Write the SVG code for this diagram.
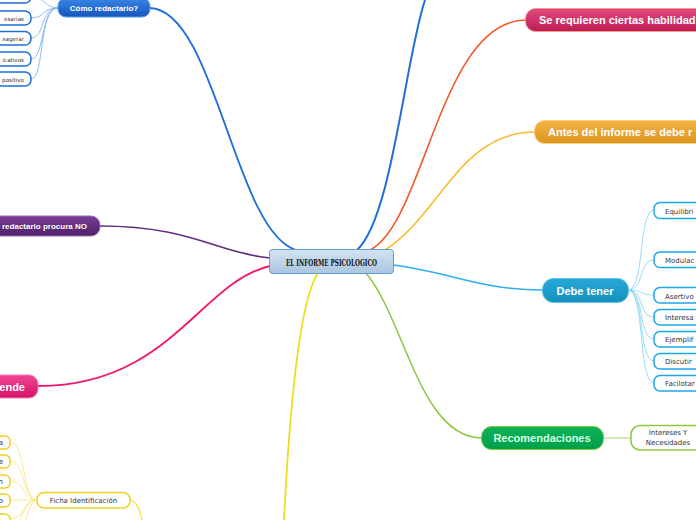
<svg xmlns="http://www.w3.org/2000/svg" width="696" height="520" viewBox="0 0 696 520">
<defs>
<linearGradient id="gCenter" x1="0" y1="0" x2="0" y2="1"><stop offset="0" stop-color="#d3e3f1"/><stop offset="1" stop-color="#aac6e0"/></linearGradient>
<linearGradient id="gBlue" x1="0" y1="0" x2="0" y2="1"><stop offset="0" stop-color="#3a86e6"/><stop offset="1" stop-color="#1556bd"/></linearGradient>
<linearGradient id="gRed" x1="0" y1="0" x2="0" y2="1"><stop offset="0" stop-color="#e24a7c"/><stop offset="1" stop-color="#bd1c55"/></linearGradient>
<linearGradient id="gOrange" x1="0" y1="0" x2="0" y2="1"><stop offset="0" stop-color="#f2b445"/><stop offset="1" stop-color="#dc9420"/></linearGradient>
<linearGradient id="gPurple" x1="0" y1="0" x2="0" y2="1"><stop offset="0" stop-color="#7a3f96"/><stop offset="1" stop-color="#4f1e68"/></linearGradient>
<linearGradient id="gPink" x1="0" y1="0" x2="0" y2="1"><stop offset="0" stop-color="#f04690"/><stop offset="1" stop-color="#d4126a"/></linearGradient>
<linearGradient id="gTeal" x1="0" y1="0" x2="0" y2="1"><stop offset="0" stop-color="#25a8d6"/><stop offset="1" stop-color="#1790bd"/></linearGradient>
<linearGradient id="gGreen" x1="0" y1="0" x2="0" y2="1"><stop offset="0" stop-color="#0bb35a"/><stop offset="1" stop-color="#009f48"/></linearGradient>
</defs>
<style>
.c{fill:none;stroke-linecap:round}
.main{font-family:"Liberation Sans",Arial,sans-serif;font-weight:bold;font-size:11px;fill:#fff}
.sub{font-family:"Liberation Sans",Arial,sans-serif;font-weight:bold;font-size:8px;fill:#fff}
.leaf{font-family:"DejaVu Sans",Verdana,sans-serif;font-size:7px;fill:#333}
.tiny{font-family:"DejaVu Sans",Verdana,sans-serif;font-size:5.6px;fill:#333}
.lb{fill:#fff;stroke:#1e6fdb;stroke-width:1.5}
.ly{fill:#fff;stroke:#f0d020;stroke-width:1.5}
.lt{fill:#fff;stroke:#1ea7e8;stroke-width:1.5}
</style>
<rect width="696" height="520" fill="#fff"/>
<g id="connectors">
<path class="c" d="M150,8 C215,10 235,232 296,250" stroke="#1f6fd8" stroke-width="1.8"/>
<path class="c" d="M357,250 C392,218 405,60 425,0" stroke="#1f6fd8" stroke-width="2"/>
<path class="c" d="M370,250 C425,222 440,20 526,20" stroke="#f05a2c" stroke-width="1.6"/>
<path class="c" d="M385,250 C440,215 460,132 535,132" stroke="#fbb829" stroke-width="1.5"/>
<path class="c" d="M100,226 C190,226 215,252 270,258" stroke="#5e2a7e" stroke-width="1.6"/>
<path class="c" d="M270,266 C200,282 170,386 38,386" stroke="#f0196f" stroke-width="1.8"/>
<path class="c" d="M318,273 C300,300 290,400 284,520" stroke="#f0dc1e" stroke-width="1.8"/>
<path class="c" d="M393,265 C450,272 480,290 543,290" stroke="#2bb0ea" stroke-width="1.6"/>
<path class="c" d="M366,273 C405,320 420,438 482,438" stroke="#8dc63f" stroke-width="1.5"/>
<path class="c" d="M604,438 L631,438" stroke="#c8e39a" stroke-width="1.5"/>
<g stroke="#7fb3f0" stroke-width="0.9" fill="none">
<path d="M58,8 C45,8 45,-3 31,-3"/>
<path d="M58,8 C42,8 45,18 31,18"/>
<path d="M58,8 C40,8 45,38 31,38"/>
<path d="M58,8 C40,8 45,59 31,59"/>
<path d="M58,8 C38,8 45,79 31,79"/>
</g>
<g stroke="#8fd6f3" stroke-width="0.9" fill="none">
<path d="M628,290 C645,290 638,210 654,210"/>
<path d="M628,290 C645,290 638,260 654,260"/>
<path d="M628,290 C645,290 638,295 654,295"/>
<path d="M628,290 C645,290 638,317 654,317"/>
<path d="M628,290 C645,290 638,339 654,339"/>
<path d="M628,290 C645,290 638,361 654,361"/>
<path d="M628,290 C645,290 638,383 654,383"/>
</g>
<g stroke="#f6e88a" stroke-width="0.9" fill="none">
<path d="M37,500 C22,500 26,442 10,442"/>
<path d="M37,500 C22,500 26,461 10,461"/>
<path d="M37,500 C22,500 26,481 10,481"/>
<path d="M37,500 L10,500"/>
<path d="M37,500 C22,500 26,519 10,519"/>
<path d="M37,500 C26,502 24,512 20,520"/>
<path d="M37,500 C30,503 28,512 26,520"/>
<path d="M130,500 C138,502 140,512 142,520" stroke="#f0dc1e" stroke-width="1.1"/>
</g>
</g>
<g id="center">
<rect x="269.5" y="249.5" width="124" height="24" rx="3" fill="url(#gCenter)" stroke="#5f9fd6" stroke-width="1"/>
<text x="331.5" y="265.5" text-anchor="middle" font-family="'DejaVu Serif',serif" font-weight="bold" font-size="10" textLength="91" lengthAdjust="spacingAndGlyphs" fill="#111">EL INFORME PSICOLOGICO</text>
</g>
<g id="como">
<rect x="58" y="-2" width="92" height="19" rx="8" fill="url(#gBlue)" stroke="#5a9af0" stroke-width="1"/>
<text x="104" y="11" text-anchor="middle" class="sub">Cómo redactario?</text>
</g>
<g id="como1"><rect x="-10" y="-10" width="41" height="13" rx="6" class="lb"/></g>
<g id="como2"><rect x="-10" y="11" width="41" height="14" rx="6" class="lb"/><text x="24" y="20.5" text-anchor="end" class="tiny">esarias</text></g>
<g id="como3"><rect x="-10" y="31.5" width="41" height="13.5" rx="6" class="lb"/><text x="24" y="40.5" text-anchor="end" class="tiny">xagerar</text></g>
<g id="como4"><rect x="-10" y="52" width="41" height="14" rx="6" class="lb"/><text x="24" y="61.5" text-anchor="end" class="tiny">icativos</text></g>
<g id="como5"><rect x="-10" y="72" width="41" height="14" rx="6" class="lb"/><text x="24" y="81.5" text-anchor="end" class="tiny">positivo</text></g>
<g id="habilidades">
<rect x="525.5" y="8.5" width="190" height="23" rx="10" fill="url(#gRed)" stroke="#f59a8a" stroke-width="1"/>
<text x="539" y="24" class="main">Se requieren ciertas habilidad</text>
</g>
<g id="antes">
<rect x="534.5" y="120.5" width="190" height="23" rx="10" fill="url(#gOrange)" stroke="#fcd27a" stroke-width="1"/>
<text x="548" y="136" class="main">Antes del informe se debe r</text>
</g>
<g id="procura">
<rect x="-20" y="216" width="120" height="20" rx="9" fill="url(#gPurple)" stroke="#9c6cb8" stroke-width="1"/>
<text x="2" y="229" class="sub">redactario procura NO</text>
</g>
<g id="entiende">
<rect x="-20" y="375" width="58" height="23" rx="9" fill="url(#gPink)" stroke="#f77bb0" stroke-width="1"/>
<text x="25" y="391" text-anchor="end" class="main">ende</text>
</g>
<g id="debe">
<rect x="542.5" y="278.5" width="86" height="24" rx="11" fill="url(#gTeal)" stroke="#5cc6ec" stroke-width="1"/>
<text x="585" y="294.5" text-anchor="middle" class="main">Debe tener</text>
</g>
<g id="d1"><rect x="654" y="202.5" width="60" height="16" rx="6" class="lt"/><text x="665" y="213.5" class="leaf">Equilibri</text></g>
<g id="d2"><rect x="654" y="252" width="60" height="15.5" rx="6" class="lt"/><text x="665" y="262.5" class="leaf">Modulac</text></g>
<g id="d3"><rect x="654" y="287.5" width="60" height="15.5" rx="6" class="lt"/><text x="665" y="298.5" class="leaf">Asertivo</text></g>
<g id="d4"><rect x="654" y="309.5" width="60" height="15.5" rx="6" class="lt"/><text x="665" y="320" class="leaf">Interesa</text></g>
<g id="d5"><rect x="654" y="331.5" width="60" height="15.5" rx="6" class="lt"/><text x="665" y="342" class="leaf">Ejemplif</text></g>
<g id="d6"><rect x="654" y="353.5" width="60" height="15.5" rx="6" class="lt"/><text x="665" y="364" class="leaf">Discutir</text></g>
<g id="d7"><rect x="654" y="375.5" width="60" height="15.5" rx="6" class="lt"/><text x="665" y="386" class="leaf">Facilotar</text></g>
<g id="recomendaciones">
<rect x="481.5" y="426.5" width="122" height="23" rx="10" fill="url(#gGreen)" stroke="#8dc63f" stroke-width="1"/>
<text x="542" y="442" text-anchor="middle" class="main" style="fill:#d8ffe6">Recomendaciones</text>
</g>
<g id="intereses">
<rect x="631" y="425.5" width="80" height="24.5" rx="9" fill="#fff" stroke="#8dc63f" stroke-width="1.5"/>
<text x="668" y="435" text-anchor="middle" class="leaf">Intereses Y</text>
<text x="668" y="444.5" text-anchor="middle" class="leaf">Necesidades</text>
</g>
<g id="ficha">
<rect x="37" y="492.5" width="93" height="15.5" rx="7" class="ly"/>
<text x="83.5" y="503" text-anchor="middle" class="leaf" font-size="7.5">Ficha Identificación</text>
</g>
<g id="f1"><rect x="-20" y="436" width="30" height="13" rx="5" class="ly"/><text x="3" y="445" text-anchor="end" class="leaf" font-size="6">a</text></g>
<g id="f2"><rect x="-20" y="455" width="30" height="13" rx="5" class="ly"/><text x="3" y="464" text-anchor="end" class="leaf" font-size="6">e</text></g>
<g id="f3"><rect x="-20" y="475" width="30" height="13" rx="5" class="ly"/><text x="3" y="484" text-anchor="end" class="leaf" font-size="6">n</text></g>
<g id="f4"><rect x="-20" y="494" width="30" height="13" rx="5" class="ly"/><text x="3" y="503" text-anchor="end" class="leaf" font-size="6">o</text></g>
<g id="f5"><rect x="-20" y="514" width="30" height="13" rx="5" class="ly"/></g>
</svg>
